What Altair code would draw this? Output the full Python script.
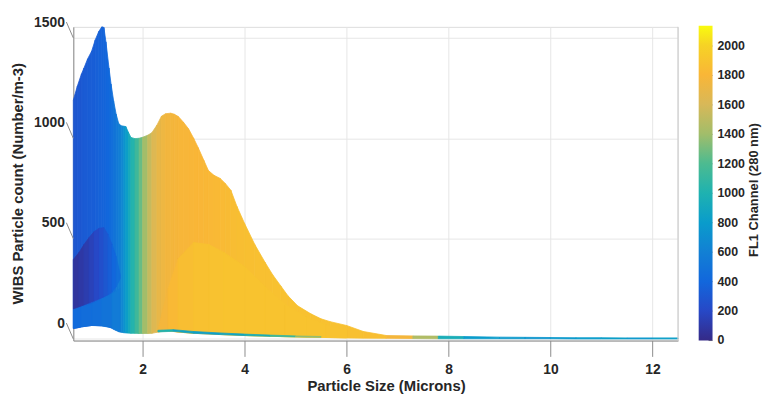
import altair as alt
import pandas as pd

# ---------------- data ----------------
# main envelope of the surface (size in microns, upper count, lower count, FL1 colour value)
main_x  = [0.64, 0.72, 0.80, 0.85, 0.92, 1.00, 1.07, 1.14, 1.20, 1.24, 1.28, 1.34, 1.38, 1.43, 1.48,
           1.53, 1.58, 1.63, 1.67, 1.72, 1.77, 1.85, 1.93, 2.00, 2.10, 2.18, 2.28, 2.37, 2.45, 2.55,
           2.62, 2.70, 2.80, 2.90, 3.00, 3.09, 3.20, 3.29, 3.40, 3.52, 3.62, 3.73, 3.85, 4.00, 4.20,
           4.40, 4.55, 4.71, 4.85, 5.04, 5.30, 5.50, 5.68, 6.00, 6.33, 6.78, 7.30, 7.80, 8.30, 9.00,
           9.50, 10.0, 10.5, 11.0, 11.5, 12.0, 12.5]
main_hi = [1190, 1260, 1320, 1350, 1395, 1434, 1490, 1532, 1555, 1552, 1480, 1350, 1270, 1187, 1120,
           1073, 1062, 1060, 1058, 1030, 1004, 998, 1000, 1005, 1015, 1027, 1065, 1110, 1122, 1125,
           1120, 1108, 1080, 1047, 1000, 953, 890, 839, 815, 800, 775, 741, 660, 575, 470,
           382, 320, 264, 215, 165, 125, 100, 86, 67, 37, 17, 15, 14, 12, 9,
           8, 7, 6, 6, 5, 5, 5]
main_lo = [52, 55, 60, 62, 64, 67, 67, 66, 65, 64, 63, 60, 55, 48, 42,
           36, 33, 31, 30, 29, 28, 28, 27, 27, 27, 28, 33, 38, 42, 40,
           37, 34, 32, 30, 28, 27, 26, 25, 24, 22, 21, 20, 19, 17, 15,
           14, 13, 12, 11, 10, 9, 8, 7, 5, 4, 3, 2, 1, 1, 1,
           1, 1, 0, 0, 0, 0, 0]
main_c  = [290, 300, 310, 320, 330, 340, 350, 360, 370, 380, 390, 410, 440, 480, 520,
           560, 620, 700, 780, 870, 960, 1080, 1200, 1330, 1480, 1590, 1670, 1720, 1745, 1765,
           1775, 1782, 1788, 1793, 1797, 1800, 1805, 1810, 1815, 1822, 1830, 1840, 1850, 1860, 1865,
           1870, 1872, 1875, 1875, 1875, 1875, 1875, 1875, 1870, 1865, 1840, 1700, 1200, 700, 900,
           650, 850, 700, 900, 750, 800, 850]

# darker patch in the lower left
dark_x  = [0.64, 0.75, 0.85, 0.95, 1.05, 1.15, 1.24, 1.32, 1.40, 1.48, 1.56]
dark_hi = [395, 430, 470, 505, 535, 552, 554, 520, 470, 410, 320]
dark_lo = [150, 160, 170, 180, 190, 200, 210, 220, 235, 260, 300]
dark_c  = [60, 80, 110, 140, 180, 220, 270, 320, 370, 430, 500]

# brighter blue band along the bottom left
blue_x  = [0.64, 0.80, 1.00, 1.20, 1.40, 1.55]
blue_hi = [150, 160, 175, 200, 225, 250]
blue_lo = [52, 60, 67, 65, 55, 36]
blue_c  = [430, 440, 450, 470, 520, 600]

# brighter yellow lower body
yel_x  = [2.30, 2.50, 2.70, 3.00, 3.30, 3.60, 4.00, 4.40, 4.80, 5.20, 5.60, 6.00]
yel_hi = [45, 250, 400, 480, 470, 430, 360, 260, 170, 110, 70, 45]
yel_lo = [35, 40, 34, 28, 25, 21, 17, 14, 11, 9, 7, 5]
yel_c  = [1740, 1800, 1845, 1868, 1878, 1885, 1890, 1892, 1890, 1888, 1885, 1880]

# thin teal rim at the bottom
rim_x  = [2.30, 2.60, 3.00, 3.50, 4.00, 4.50, 5.00, 5.50]
rim_hi = [43, 46, 37, 30, 24, 19, 15, 12]
rim_lo = [35, 38, 28, 22, 17, 13, 10, 8]
rim_c  = [1100, 900, 800, 850, 900, 1000, 1200, 1500]

y_ticks = [0, 500, 1000, 1500]
x_ticks = [2, 4, 6, 8, 10, 12]
cbar_ticks = [0, 200, 400, 600, 800, 1000, 1200, 1400, 1600, 1800, 2000]
cbar_stops = [0, 200, 400, 600, 800, 1000, 1200, 1400, 1600, 1800, 2000, 2130]
cbar_colors = ['#352a87', '#2748c6', '#1267dc', '#1280d4', '#0a9ccb', '#1fb2b0',
               '#4dbb90', '#a2bd6a', '#d8b858', '#f9b637', '#f6d325', '#f9fb0e']

x_title = "Particle Size (Microns)"
y_title = "WIBS Particle count (Number/m-3)"
c_title = "FL1 Channel (280 nm)"

# ---------------- build tables ----------------
def segments(name, xs, his, los, cs):
    rows = []
    for i in range(len(xs) - 1):
        c = (cs[i] + cs[i + 1]) / 2
        for j in (i, i + 1):
            rows.append(dict(seg=f"{name}{i:03d}", x=xs[j], hi=his[j], lo=los[j], c=c, c2=c))
    return pd.DataFrame(rows)

W, H = 611, 317
FONT = "Liberation Sans"
TXT = "#262626"
AX = "#8c8c8c"

xscale = alt.Scale(domain=[0.64, 12.5], nice=False, zero=False)
yscale = alt.Scale(domain=[-8, 1555], nice=False, zero=False)
cscale = alt.Scale(domain=cbar_stops, range=cbar_colors, interpolate="rgb")
cbscale = alt.Scale(domain=[0, 2130], nice=False, zero=False)

xaxis = alt.Axis(values=x_ticks, format="d", grid=True, gridColor="#e6e6e6", domainColor=AX,
                 tickColor=AX, tickSize=16, labelFontSize=14, labelFontWeight="bold",
                 labelColor=TXT, labelPadding=6, title=x_title, titleFontSize=15,
                 titleFontWeight="bold", titleColor=TXT, titleX=316, titleY=38,
                 titleBaseline="top", titleAlign="center")
yaxis = alt.Axis(values=y_ticks, format="d", grid=True, gridColor="#e6e6e6", domainColor=AX,
                 ticks=False, tickSize=0, labelOffset=-16, labelPadding=9, labelFontSize=14,
                 labelFontWeight="bold", labelColor=TXT, title=y_title, titleFontSize=15,
                 titleFontWeight="bold", titleColor=TXT, titleX=-48, titleY=158,
                 titleAngle=270, titleBaseline="bottom", titleAlign="center")
legend = alt.Legend(type="gradient", orient="none", legendX=632, legendY=-1, direction="vertical",
                    gradientLength=318, gradientThickness=14, title=None, values=cbar_ticks,
                    labelExpr="''", labelFontSize=1, labelOpacity=0, labelOverlap=False,
                    gradientStrokeWidth=0)


def area_layer(df):
    return alt.Chart(df).mark_area(strokeWidth=0.8, opacity=1).encode(
        x=alt.X("x:Q", scale=xscale, axis=xaxis),
        y=alt.Y("hi:Q", scale=yscale, axis=yaxis),
        y2="lo:Q",
        detail="seg:N",
        color=alt.Color("c:Q", scale=cscale, legend=legend),
        stroke=alt.Stroke("c2:Q", scale=cscale, legend=None),
    )


main = area_layer(segments("m", main_x, main_hi, main_lo, main_c))
blue = area_layer(segments("b", blue_x, blue_hi, blue_lo, blue_c))
dark = area_layer(segments("d", dark_x, dark_hi, dark_lo, dark_c))
yel = area_layer(segments("y", yel_x, yel_hi, yel_lo, yel_c))
rim = area_layer(segments("r", rim_x, rim_hi, rim_lo, rim_c))

tick_df = pd.DataFrame({"v": y_ticks})
slant = alt.Chart(tick_df).transform_calculate(v2="datum.v + 79").mark_rule(
    color=AX, strokeWidth=1).encode(
    x=alt.value(0), x2=alt.value(-7),
    y=alt.Y("v:Q", scale=yscale, axis=yaxis), y2="v2:Q")

edge = alt.Chart(pd.DataFrame({"k": [1]})).mark_rule(color="#cfcfcf", strokeWidth=1).encode(
    x=alt.value(W), y=alt.value(0), y2=alt.value(H))

ctitle = alt.Chart(pd.DataFrame({"t": [c_title]})).mark_text(
    angle=270, font=FONT, fontSize=13, fontWeight="bold", color=TXT,
    align="center", baseline="middle").encode(
    x=alt.value(688), y=alt.value(165), text="t:N")

# colour-bar tick labels and small tick marks
cb_df = pd.DataFrame({"v": cbar_ticks})
cb_labels = alt.Chart(cb_df).mark_text(
    font=FONT, fontSize=12.5, fontWeight="bold", color=TXT, align="left",
    baseline="middle").encode(
    x=alt.value(651), y=alt.Y("v:Q", scale=cbscale, axis=None), text=alt.Text("v:Q", format="d"))
cb_ticks = alt.Chart(cb_df).mark_rule(color="#7a7a7a", strokeWidth=1).encode(
    x=alt.value(642), x2=alt.value(646), y=alt.Y("v:Q", scale=cbscale, axis=None))

plot = alt.layer(main, blue, dark, yel, rim, slant, edge, ctitle).resolve_scale(
    stroke="independent")
cbar = alt.layer(cb_ticks, cb_labels)

chart = alt.layer(plot, cbar).resolve_scale(y="independent").properties(
    width=W, height=H,
    autosize=alt.AutoSizeParams(type="none"),
    padding={"left": 66, "top": 17, "right": 86, "bottom": 55},
).configure_view(stroke=None).configure(font=FONT)

chart.save("out.html", embed_options={"renderer": "svg", "actions": False})
